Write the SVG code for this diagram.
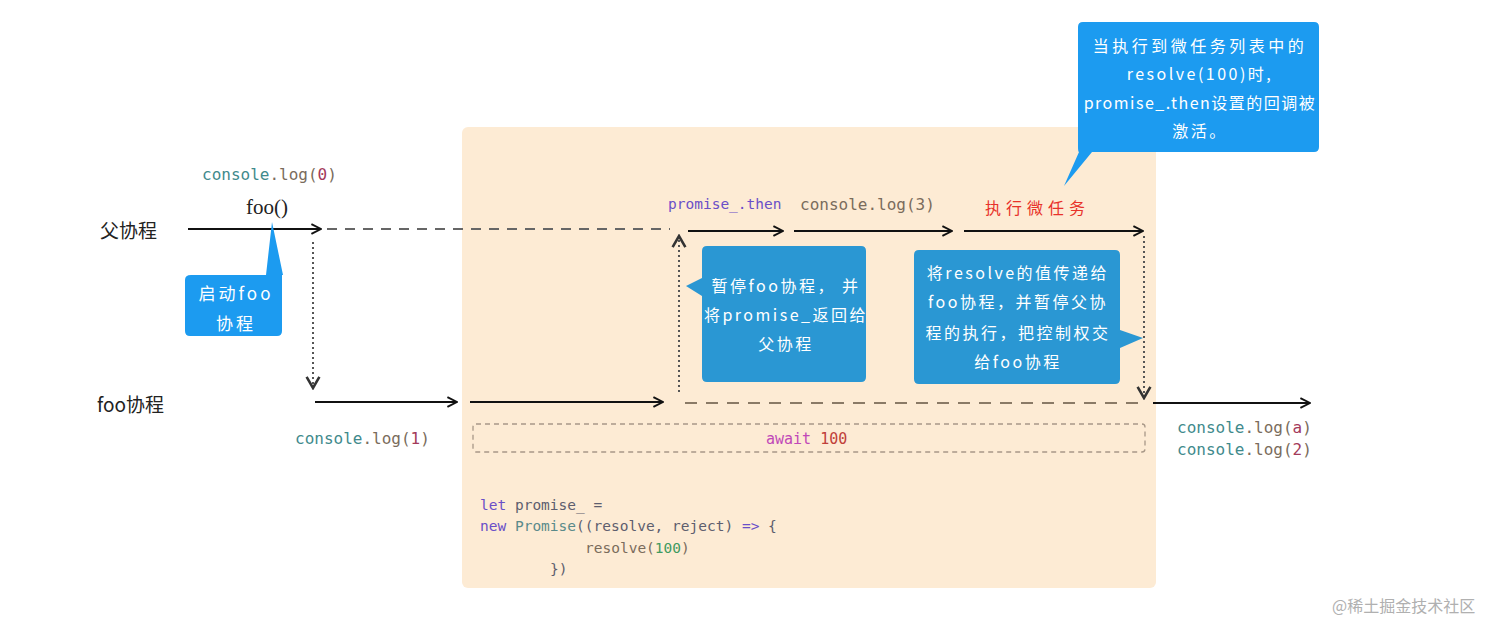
<svg xmlns="http://www.w3.org/2000/svg" width="1512" height="636" viewBox="0 0 1512 636">
<style>
.lbl{font-family:"Noto Sans CJK SC","Noto Sans",sans-serif;font-size:19px;fill:#222}
.mono{font-family:"DejaVu Sans Mono","Liberation Mono",monospace;font-size:16px}
.code{font-family:"DejaVu Sans Mono","Liberation Mono",monospace;font-size:14.5px}
.cw{font-family:"Noto Sans CJK SC","Noto Sans",sans-serif;font-size:16px;fill:#fff;text-anchor:middle;letter-spacing:2.5px}
.solid{stroke:#111;stroke-width:2;fill:none;marker-end:url(#ah)}
.dash{stroke:#666;stroke-width:2;fill:none;stroke-dasharray:10 8}
.dash2{stroke:#8a7a66;stroke-width:2;fill:none;stroke-dasharray:12 9}
.dot{stroke:#555;stroke-width:2;fill:none;stroke-dasharray:2 3}
.teal{fill:#3f8a8c}.gr{fill:#7a6c5c}.pk{fill:#a33a5a}.pu{fill:#6a4fc8}
</style>
<defs>
<marker id="ah" viewBox="0 0 10 10" refX="9" refY="5" markerWidth="6" markerHeight="6" orient="auto" markerUnits="strokeWidth">
<path d="M1 1 L9 5 L1 9" fill="none" stroke="#111" stroke-width="1.6"/>
</marker>
<marker id="ahs" viewBox="0 0 10 10" refX="9" refY="5" markerWidth="8" markerHeight="8" orient="auto" markerUnits="strokeWidth">
<path d="M2 1 L9 5 L2 9" fill="none" stroke="#333" stroke-width="1.6"/>
</marker>
</defs>
<rect width="1512" height="636" fill="#fff"/>
<rect id="zone" x="462" y="127" width="694" height="461" rx="6" fill="#fdebd4"/>

<g id="connectors">
<line class="solid" x1="188" y1="229" x2="321" y2="229"/>
<line class="dash" x1="327" y1="229" x2="670" y2="229"/>
<line class="dot" x1="313" y1="242" x2="313" y2="388" marker-end="url(#ahs)"/>
<line class="solid" x1="315" y1="402" x2="457" y2="402"/>
<line class="solid" x1="470" y1="402" x2="663" y2="402"/>
<line class="dash2" x1="685" y1="403" x2="1145" y2="403"/>
<line class="solid" x1="1153" y1="403" x2="1310" y2="403"/>
<line class="dot" x1="679" y1="392" x2="679" y2="236" marker-end="url(#ahs)"/>
<line class="solid" x1="688" y1="231" x2="783" y2="231"/>
<line class="solid" x1="794" y1="231" x2="952" y2="231"/>
<line class="solid" x1="964" y1="231" x2="1143" y2="231"/>
<line class="dot" x1="1144" y1="236" x2="1144" y2="398" marker-end="url(#ahs)"/>
</g>

<g id="await-box">
<rect x="473" y="424" width="672" height="28" rx="3" fill="none" stroke="#a89888" stroke-width="1.3" stroke-dasharray="5 4"/>
<text class="mono" x="766" y="444" style="font-size:15px"><tspan fill="#c048b8">await</tspan> <tspan fill="#c0403a">100</tspan></text>
</g>

<g id="label-parent"><text class="lbl" x="100" y="238">父协程</text></g>
<g id="label-foo"><text class="lbl" x="97" y="412">foo协程</text></g>

<g id="t-log0"><text class="mono" x="202" y="180"><tspan class="teal">console</tspan><tspan class="gr">.log(</tspan><tspan class="pk">0</tspan><tspan class="gr">)</tspan></text></g>
<g id="t-foo"><text x="246" y="214" font-family="Liberation Serif,serif" font-size="21" fill="#222">foo()</text></g>
<g id="t-log1"><text class="mono" x="295" y="444"><tspan class="teal">console</tspan><tspan class="gr">.log(</tspan><tspan class="pk">1</tspan><tspan class="gr">)</tspan></text></g>
<g id="t-then"><text class="mono" x="668" y="209" style="font-size:14.5px;fill:#6a4fc8">promise_.then</text></g>
<g id="t-log3"><text class="mono" x="800" y="210" fill="#7a6c5c">console.log(3)</text></g>
<g id="t-micro"><text x="985" y="214" font-family="Noto Sans CJK SC,sans-serif" font-size="16" fill="#e8322a" letter-spacing="5">执行微任务</text></g>
<g id="t-logs">
<text class="mono" x="1177" y="433"><tspan class="teal">console</tspan><tspan class="gr">.log(</tspan><tspan class="pk">a</tspan><tspan class="gr">)</tspan></text>
<text class="mono" x="1177" y="455"><tspan class="teal">console</tspan><tspan class="gr">.log(</tspan><tspan class="pk">2</tspan><tspan class="gr">)</tspan></text>
</g>

<g id="code">
<text class="code" x="480" y="510"><tspan fill="#6a4fc8">let</tspan><tspan fill="#5e5e6e"> promise_ =</tspan></text>
<text class="code" x="480" y="531"><tspan fill="#6a4fc8">new</tspan><tspan fill="#5a8a8a"> Promise</tspan><tspan fill="#5e5e6e">((resolve, reject) </tspan><tspan fill="#6a4fc8">=&gt;</tspan><tspan fill="#5e5e6e"> {</tspan></text>
<text class="code" x="585" y="553"><tspan fill="#7a6c5c">resolve(</tspan><tspan fill="#3f9a60">100</tspan><tspan fill="#7a6c5c">)</tspan></text>
<text class="code" x="550" y="574" fill="#5e5e6e">})</text>
</g>

<g id="callout-start">
<path d="M191 275 H266 L272 222 L283 275 H282 Q282 275 282 281 V331 Q282 336 277 336 H190 Q185 336 185 331 V280 Q185 275 191 275 Z" fill="#1c9bf0"/>
<text class="cw" x="236" y="300" style="font-size:17px;letter-spacing:3px">启动foo</text>
<text class="cw" x="236" y="330" style="font-size:17px;letter-spacing:3px">协程</text>
</g>

<g id="callout-top">
<path d="M1083 22 H1314 Q1319 22 1319 27 V147 Q1319 152 1314 152 H1092 L1064 186 L1079 152 Q1078 152 1078 147 V27 Q1078 22 1083 22 Z" fill="#1c9bf0"/>
<text class="cw" x="1200" y="52" style="letter-spacing:3.5px">当执行到微任务列表中的</text>
<text class="cw" x="1200" y="80">resolve(100)时,</text>
<text class="cw" x="1200" y="109" style="letter-spacing:1.5px">promise_.then设置的回调被</text>
<text class="cw" x="1200" y="137">激活。</text>
</g>

<g id="box-pause">
<path d="M707 246 H861 Q866 246 866 251 V377 Q866 382 861 382 H707 Q702 382 702 377 V296 L686 286 L702 278 V251 Q702 246 707 246 Z" fill="#2a97d3"/>
<text class="cw" x="786" y="292">暂停foo协程， 并</text>
<text class="cw" x="786" y="321">将promise_返回给</text>
<text class="cw" x="786" y="350">父协程</text>
</g>

<g id="box-resolve">
<path d="M919 250 H1115 Q1120 250 1120 255 V330 L1143 338 L1120 348 V379 Q1120 384 1115 384 H919 Q914 384 914 379 V255 Q914 250 919 250 Z" fill="#2a97d3"/>
<text class="cw" x="1018" y="279">将resolve的值传递给</text>
<text class="cw" x="1018" y="308">foo协程，并暂停父协</text>
<text class="cw" x="1018" y="339">程的执行，把控制权交</text>
<text class="cw" x="1018" y="368">给foo协程</text>
</g>

<text x="1332" y="612" font-family="Noto Sans CJK SC,sans-serif" font-size="16" fill="#b0b0b0">@稀土掘金技术社区</text>
</svg>
